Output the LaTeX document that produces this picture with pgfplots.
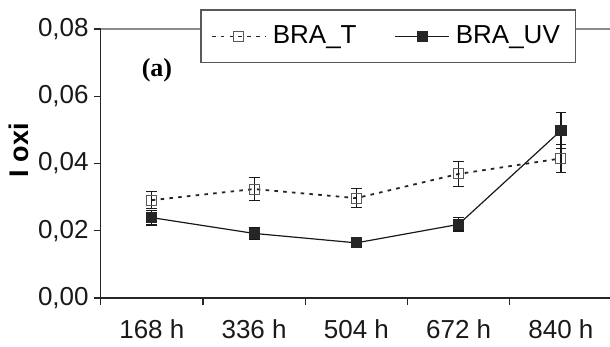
\documentclass[border=0pt]{standalone}
\usepackage{pgfplots}
\pgfplotsset{compat=1.18}
\usepackage{pgfplotstable}
\usepackage{fontspec}
\setmainfont{Liberation Sans}
\newfontfamily\serifbold{Liberation Serif}
\pgfplotstableread{
x y err
0 0.0291 0.0026
1 0.0324 0.0035
2 0.0297 0.0028
3 0.0369 0.0038
4 0.0415 0.0042
}\braT
\pgfplotstableread{
x y err
0 0.0239 0.0022
1 0.0192 0.0017
2 0.0164 0.0015
3 0.0219 0.0020
4 0.0498 0.0053
}\braUV
\begin{document}
\begin{tikzpicture}
\useasboundingbox (-50.35pt,-24.5pt) rectangle (254.65pt,149pt);
\begin{axis}[
  at={(0,0)}, anchor=south west,
  scale only axis, width=254.65pt, height=134.5pt,
  xmin=-0.5, xmax=4.48, ymin=0, ymax=0.08,
  axis x line*=bottom, axis y line*=left,
  axis line style={black!85, line width=0.6pt},
  xtick={0,1,2,3,4},
  xticklabels={168 h,336 h,504 h,672 h,840 h},
  major x tick style={draw=none},
  minor xtick={-0.5,0.5,1.5,2.5,3.5},
  minor x tick style={black!85, line width=0.6pt},
  ytick={0,0.02,0.04,0.06,0.08},
  y tick style={black!85, line width=0.6pt},
  tick align=outside,
  major tick length=3.5pt, minor tick length=3.5pt,
  yticklabel style={/pgf/number format/fixed, /pgf/number format/fixed zerofill, /pgf/number format/precision=2, /pgf/number format/use comma, /pgf/number format/assume math mode=true, xshift=1pt},
  scaled y ticks=false,
  tick label style={font=\fontsize{13}{15}\selectfont, text=black!90},
  xticklabel style={yshift=-4pt},
  ylabel={\textbf{I oxi}},
  ylabel style={at={(axis description cs:-0.161,0.55)}, anchor=center, font=\fontsize{13.5}{15}\selectfont},
  legend columns=2,
  legend style={at={(rel axis cs:0.197,1.0706)}, anchor=north west,
    draw=black!65, line width=0.6pt, fill=white, outer sep=0pt,
    font=\fontsize{13}{15}\selectfont,
    inner xsep=5pt, inner ysep=6pt,
    nodes={inner xsep=3pt},
    /tikz/every even column/.append style={column sep=16pt}},
  legend image code/.code={
    \draw[mark repeat=2, mark phase=2] plot coordinates {(0pt,0pt) (13.5pt,0pt) (27pt,0pt)};
  },
  clip=false,
]
\draw[black!45, line width=0.6pt] (rel axis cs:0,1) -- (rel axis cs:1,1);
\addplot[black!85, line width=0.9pt, dash pattern=on 1.8pt off 2.6pt,
  mark=square, mark size=2.5pt, mark options={solid, draw=black!65, line width=0.55pt},
  error bars/.cd, y dir=both, y explicit,
  error bar style={solid, black!90, line width=0.6pt},
  error mark options={rotate=90, mark size=2.7pt, black!90, line width=0.6pt}]
  table[x=x, y=y, y error=err] {\braT};
\addlegendentry{BRA\_T}
\addplot[black!90, line width=0.6pt,
  mark=square*, mark size=2.5pt, mark options={solid, fill=black!85, draw=black!85},
  error bars/.cd, y dir=both, y explicit,
  error bar style={black!90, line width=0.6pt},
  error mark options={rotate=90, mark size=2.7pt, black!90, line width=0.6pt}]
  table[x=x, y=y, y error=err] {\braUV};
\addlegendentry{BRA\_UV}
\node[font=\serifbold\bfseries\fontsize{13}{15}\selectfont] at (axis cs:0.05,0.0678) {(a)};
\end{axis}
\end{tikzpicture}
\end{document}
